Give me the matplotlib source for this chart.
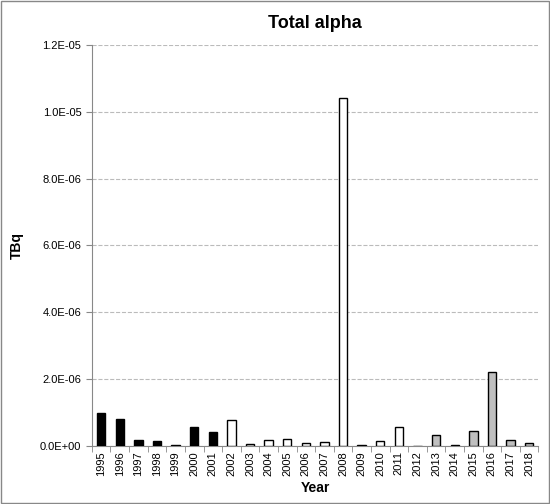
import matplotlib.pyplot as plt
from matplotlib.patches import Rectangle

years = [str(y) for y in range(1995, 2019)]
values = [1.0e-6, 0.8e-6, 0.17e-6, 0.14e-6, 0.03e-6, 0.58e-6, 0.43e-6, 0.77e-6,
          0.07e-6, 0.18e-6, 0.22e-6, 0.08e-6, 0.12e-6, 1.04e-5, 0.03e-6, 0.14e-6,
          0.57e-6, 0.0, 0.32e-6, 0.03e-6, 0.45e-6, 2.22e-6, 0.18e-6, 0.1e-6]
colors = ["black"] * 7 + ["white"] * 11 + ["#bfbfbf"] * 6

plt.rcParams["font.family"] = ["Liberation Sans", "DejaVu Sans"]
fig = plt.figure(figsize=(5.5, 5.04), dpi=100)
ax = fig.add_axes([0.167, 0.115, 0.812, 0.796])
fig.patches.append(Rectangle((0.002, 0.002), 0.996, 0.996, transform=fig.transFigure,
                             fill=False, edgecolor="#888888", lw=1))

x = range(len(years))
ax.bar(x, values, width=0.45, color=colors, edgecolor="black", linewidth=1, zorder=3)
ax.set_xlim(-0.5, len(years) - 0.5)
ax.set_ylim(0, 1.2e-5)
ax.set_yticks([i * 2e-6 for i in range(7)])
ax.set_yticklabels(["0.0E+00", "2.0E-06", "4.0E-06", "6.0E-06", "8.0E-06", "1.0E-05", "1.2E-05"], fontsize=8)
ax.set_xticks(list(x))
ax.set_xticklabels(years, rotation=90, fontsize=8)
ax.set_xticks([i + 0.5 for i in range(-1, len(years))], minor=True)
ax.tick_params(axis="x", which="major", length=0)
ax.tick_params(axis="x", which="minor", length=4, color="#888888")
ax.tick_params(axis="y", length=4, color="#888888")
ax.grid(axis="y", linestyle="--", color="#bbbbbb", lw=0.8, zorder=0)
for s in ["top", "right"]:
    ax.spines[s].set_visible(False)
for s in ["left", "bottom"]:
    ax.spines[s].set_color("#888888")
ax.set_title("Total alpha", fontsize=13, fontweight="bold", pad=12)
ax.set_xlabel("Year", fontsize=10, fontweight="bold")
ax.set_ylabel("TBq", fontsize=10, fontweight="bold", labelpad=12)
fig.savefig("out.png", dpi=100)
